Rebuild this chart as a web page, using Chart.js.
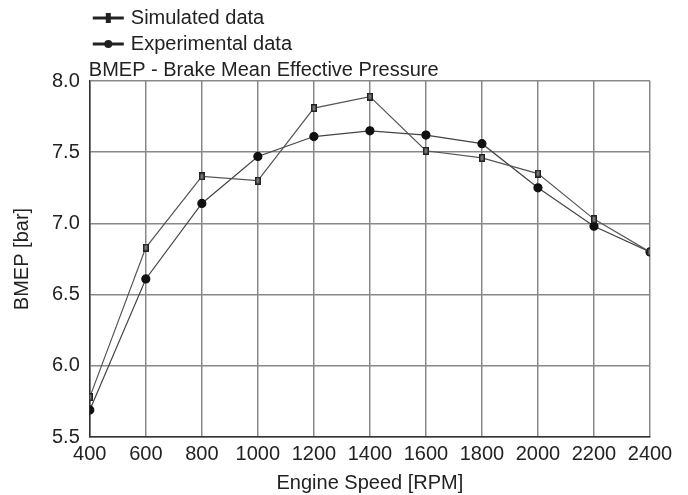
<!DOCTYPE html>
<html>
<head>
<meta charset="utf-8">
<script src="https://cdn.jsdelivr.net/npm/chart.js@4"></script>
<style>
  html, body { margin: 0; padding: 0; background: #fff; }
  #wrap { width: 688px; height: 495px; }
</style>
</head>
<body>
<div id="wrap"><canvas id="bmepChart"></canvas></div>
<script>
// Engine speed [RPM]
const rpm = [400, 600, 800, 1000, 1200, 1400, 1600, 1800, 2000, 2200, 2400];
// BMEP [bar]
const simulatedData = [5.78, 6.83, 7.33, 7.30, 7.81, 7.89, 7.51, 7.46, 7.35, 7.03, 6.80];
const experimentalData = [5.69, 6.61, 7.14, 7.47, 7.61, 7.65, 7.62, 7.56, 7.25, 6.98, 6.80];
const seriesLabels = ['Simulated data', 'Experimental data'];
const chartTitle = 'BMEP - Brake Mean Effective Pressure';

const font = 'Liberation Sans, Arial, sans-serif';

// small upright box marker for the simulated series
const boxMarker = document.createElement('canvas');
boxMarker.width = 6;
boxMarker.height = 8;
(function () {
    const c = boxMarker.getContext('2d');
    c.fillStyle = '#222';
    c.fillRect(0, 0, 6, 8);
    c.fillStyle = '#777';
    c.fillRect(1.5, 1.5, 3, 5);
})();

// title + legend drawn above the plot, like the original figure
const headerPlugin = {
    id: 'header',
    afterDraw(chart) {
        const ctx = chart.ctx;
        const left = chart.chartArea.left;
        ctx.save();
        ctx.fillStyle = '#222';
        ctx.font = '20px ' + font;
        ctx.textBaseline = 'middle';
        ctx.textAlign = 'left';
        ctx.fillText(chartTitle, left - 1, 70);

        chart.data.datasets.forEach((ds, i) => {
            const y = 18 + i * 26;
            const x0 = left + 3;
            ctx.strokeStyle = '#222';
            ctx.lineWidth = 3;
            ctx.beginPath();
            ctx.moveTo(x0, y);
            ctx.lineTo(x0 + 31, y);
            ctx.stroke();
            ctx.fillStyle = '#222';
            if (i === 0) {
                ctx.fillRect(x0 + 13, y - 5, 5, 10);
            } else {
                ctx.beginPath();
                ctx.arc(x0 + 15.5, y, 4, 0, Math.PI * 2);
                ctx.fill();
            }
            ctx.fillText(ds.label, x0 + 38, y);
        });
        ctx.restore();
    }
};

const ctx = document.getElementById('bmepChart').getContext('2d');
new Chart(ctx, {
    type: 'line',
    data: {
        datasets: [{
            label: seriesLabels[0],
            data: rpm.map((x, i) => ({ x: x, y: simulatedData[i] })),
            borderColor: '#555',
            borderWidth: 1.2,
            pointStyle: boxMarker,
            tension: 0
        }, {
            label: seriesLabels[1],
            data: rpm.map((x, i) => ({ x: x, y: experimentalData[i] })),
            borderColor: '#444',
            borderWidth: 1.2,
            pointStyle: 'circle',
            pointRadius: 4,
            pointBackgroundColor: '#111',
            pointBorderColor: '#111',
            tension: 0
        }]
    },
    options: {
        responsive: true,
        maintainAspectRatio: false,
        animation: false,
        layout: { padding: { top: 81, right: 38, left: 10, bottom: 0 } },
        scales: {
            x: {
                type: 'linear',
                min: 400,
                max: 2400,
                ticks: {
                    stepSize: 200,
                    color: '#222',
                    font: { size: 20, family: font },
                    padding: 5,
                    callback: v => String(v)
                },
                grid: { color: '#888', lineWidth: 1.5, drawTicks: false },
                border: { color: '#333', width: 1.5 },
                title: { display: true, text: 'Engine Speed [RPM]', color: '#222', font: { size: 20, family: font }, padding: { top: 0, bottom: 0 } }
            },
            y: {
                min: 5.5,
                max: 8.0,
                ticks: {
                    stepSize: 0.5,
                    color: '#222',
                    font: { size: 20, family: font },
                    padding: 10,
                    callback: v => v.toFixed(1)
                },
                grid: { color: '#888', lineWidth: 1.5, drawTicks: false },
                border: { color: '#333', width: 1.5 },
                title: { display: true, text: 'BMEP [bar]', color: '#222', font: { size: 20, family: font }, padding: { top: 0, bottom: 8 } }
            }
        },
        plugins: {
            legend: { display: false },
            title: { display: false },
            tooltip: { enabled: false }
        }
    },
    plugins: [headerPlugin]
});
</script>
</body>
</html>
